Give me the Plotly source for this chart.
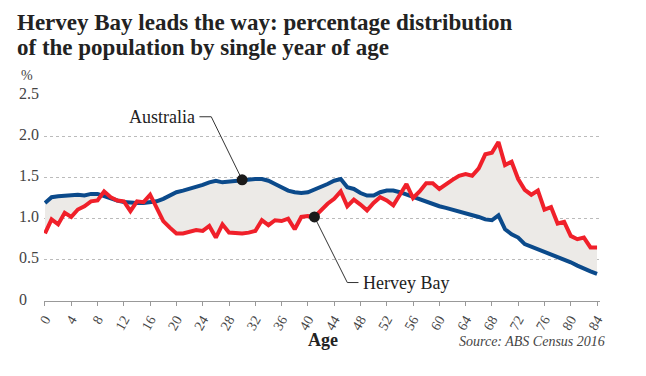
import plotly.graph_objects as go

ages = list(range(0, 85))

australia = [1.19, 1.26, 1.27, 1.28, 1.29, 1.29, 1.28, 1.30, 1.30, 1.27,
             1.24, 1.22, 1.20, 1.19, 1.19, 1.19, 1.20, 1.21, 1.24, 1.28,
             1.32, 1.34, 1.36, 1.38, 1.41, 1.44, 1.46, 1.44, 1.45, 1.45,
             1.47, 1.48, 1.48, 1.48, 1.46, 1.42, 1.38, 1.34, 1.32, 1.31,
             1.32, 1.35, 1.38, 1.42, 1.46, 1.48, 1.38, 1.36, 1.31, 1.28,
             1.28, 1.32, 1.34, 1.34, 1.32, 1.29, 1.26, 1.23, 1.21, 1.18,
             1.15, 1.13, 1.11, 1.09, 1.07, 1.05, 1.02, 0.99, 0.98, 1.04,
             0.87, 0.81, 0.77, 0.69, 0.66, 0.62, 0.59, 0.56, 0.53, 0.50,
             0.47, 0.43, 0.39, 0.36, 0.33]

hervey_bay = [0.82, 0.99, 0.93, 1.07, 1.02, 1.11, 1.15, 1.21, 1.22, 1.33,
              1.26, 1.22, 1.21, 1.09, 1.21, 1.20, 1.29, 1.14, 0.97, 0.89,
              0.82, 0.82, 0.84, 0.86, 0.85, 0.91, 0.77, 0.93, 0.83, 0.82,
              0.82, 0.83, 0.85, 0.98, 0.92, 0.98, 0.97, 1.00, 0.87, 1.02,
              1.03, 1.02, 1.10, 1.18, 1.24, 1.33, 1.15, 1.23, 1.17, 1.10,
              1.19, 1.26, 1.22, 1.16, 1.29, 1.42, 1.25, 1.33, 1.43, 1.43,
              1.36, 1.42, 1.47, 1.52, 1.54, 1.52, 1.61, 1.78, 1.80, 1.93,
              1.65, 1.69, 1.48, 1.35, 1.29, 1.34, 1.11, 1.14, 0.94, 0.96,
              0.79, 0.75, 0.77, 0.65, 0.65]

x_ticks = list(range(0, 85, 4))
y_ticks = [0, 0.5, 1.0, 1.5, 2.0, 2.5]
y_tick_labels = ["0", "0.5", "1.0", "1.5", "2.0", "2.5"]

aus_dot_age = 30
hb_dot_age = 41

SERIF = "Liberation Serif"
BLUE = "#0b4a8b"
RED = "#f0202a"
FILL = "#eceae7"

# page body has an 8px margin; plot area on screen spans x 44..600, y 95..301.5
PW, PH = 556, 206.5


def px(sx):
    return (sx - 44) / PW


def py(sy):
    return (301.5 - sy) / PH


fig = go.Figure()
fig.add_trace(go.Scatter(x=ages, y=australia, mode="lines", line=dict(width=0),
                         hoverinfo="skip", showlegend=False))
fig.add_trace(go.Scatter(x=ages, y=hervey_bay, mode="lines", line=dict(width=0),
                         fill="tonexty", fillcolor=FILL,
                         hoverinfo="skip", showlegend=False))
fig.add_trace(go.Scatter(x=ages, y=australia, mode="lines", name="Australia",
                         line=dict(color=BLUE, width=4), showlegend=False))
fig.add_trace(go.Scatter(x=ages, y=hervey_bay, mode="lines", name="Hervey Bay",
                         line=dict(color=RED, width=4), showlegend=False))

aus_dot = (aus_dot_age, australia[aus_dot_age])
hb_dot = (hb_dot_age, hervey_bay[hb_dot_age])
fig.add_trace(go.Scatter(x=[23.5, 25.3, aus_dot[0]], y=[2.236, 2.236, aus_dot[1]],
                         mode="lines", line=dict(color="#333", width=1),
                         hoverinfo="skip", showlegend=False))
fig.add_trace(go.Scatter(x=[hb_dot[0], 46.0, 47.7], y=[hb_dot[1], 0.224, 0.224],
                         mode="lines", line=dict(color="#333", width=1),
                         hoverinfo="skip", showlegend=False))
fig.add_trace(go.Scatter(x=[aus_dot[0], hb_dot[0]], y=[aus_dot[1], hb_dot[1]],
                         mode="markers", marker=dict(color="#1a1a1a", size=11),
                         hoverinfo="skip", showlegend=False))

ann = []
ann.append(dict(text="<b>Hervey Bay leads the way: percentage distribution</b>",
                xref="paper", yref="paper", x=px(15), y=py(22), xanchor="left",
                yanchor="middle", showarrow=False,
                font=dict(family=SERIF, size=23, color="#222")))
ann.append(dict(text="<b>of the population by single year of age</b>",
                xref="paper", yref="paper", x=px(15), y=py(47), xanchor="left",
                yanchor="middle", showarrow=False,
                font=dict(family=SERIF, size=23, color="#222")))
for v, t in zip(y_ticks, y_tick_labels):
    ann.append(dict(text=t, xref="paper", yref="y", x=px(17), y=v, xanchor="left",
                    yanchor="middle", yshift=2, showarrow=False,
                    font=dict(family=SERIF, size=16, color="#444")))
ann.append(dict(text="%", xref="paper", yref="paper", x=px(27), y=py(75),
                xanchor="center", yanchor="middle", showarrow=False,
                font=dict(family=SERIF, size=14, color="#444")))
ann.append(dict(text="Australia", xref="x", yref="y", x=23.2, y=2.236, xanchor="right",
                yanchor="middle", showarrow=False,
                font=dict(family=SERIF, size=18, color="#222")))
ann.append(dict(text="Hervey Bay", xref="x", yref="y", x=48.1, y=0.224, xanchor="left",
                yanchor="middle", showarrow=False,
                font=dict(family=SERIF, size=18, color="#222")))
ann.append(dict(text="<b>Age</b>", xref="paper", yref="paper", x=px(323), y=py(341),
                xanchor="center", yanchor="middle", showarrow=False,
                font=dict(family=SERIF, size=18, color="#222")))
ann.append(dict(text="<i>Source: ABS Census 2016</i>", xref="paper", yref="paper",
                x=px(607), y=py(342), xanchor="right", yanchor="middle",
                showarrow=False, font=dict(family=SERIF, size=14, color="#444")))

fig.update_layout(
    width=646, height=376,
    margin=dict(l=36, r=54, t=87, b=82.5),
    paper_bgcolor="white", plot_bgcolor="white",
    annotations=ann,
    xaxis=dict(range=[-0.15, 84.45], tickvals=x_ticks, ticktext=[str(t) for t in x_ticks],
               tickangle=-60, tickfont=dict(family=SERIF, size=14, color="#444"),
               showline=True, linecolor="#999", linewidth=1, ticks="outside", ticklen=4,
               tickcolor="#999", showgrid=False, zeroline=False, fixedrange=True),
    yaxis=dict(range=[0, 2.5], tickvals=y_ticks[1:], showticklabels=False,
               gridcolor="#bbb", griddash="dot", gridwidth=1, zeroline=False,
               showline=False, fixedrange=True),
)

fig.write_html("out.html")
